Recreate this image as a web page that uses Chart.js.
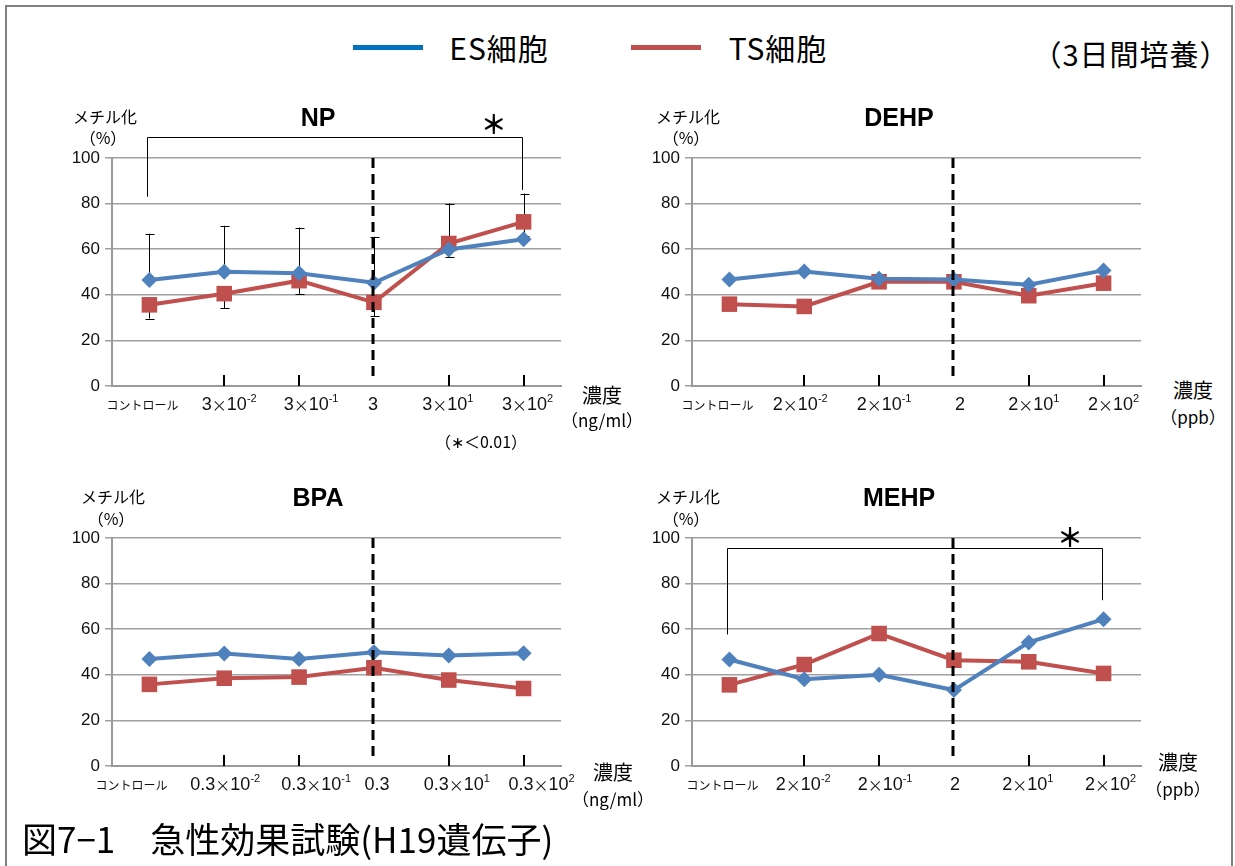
<!DOCTYPE html>
<html>
<head>
<meta charset="utf-8">
<script src="https://cdn.jsdelivr.net/npm/chart.js@4.4.1/dist/chart.umd.min.js"></script>
<style>
  body { margin: 0; width: 1235px; height: 866px; background: #fff; position: relative; overflow: hidden;
         font-family: 'Liberation Sans', 'Noto Sans CJK JP', sans-serif; }
  .frame { position: absolute; left: 5px; top: 5px; width: 1224px; height: 880px; border: 2px solid #808080; border-bottom: none; }
  .t { position: absolute; white-space: nowrap; transform: translate(-50%, -50%); color: #000; line-height: 1; }
  .jp { font-family: 'Noto Sans CJK JP', sans-serif; }
  .ttl { font-family: 'Liberation Sans', sans-serif; font-weight: bold; font-size: 25px; }
  .swatch { position: absolute; height: 5px; width: 70px; }
  canvas { position: absolute; }
</style>
</head>
<body>
<div class="frame"></div>

<!-- legend -->
<div class="swatch" style="left:353px;top:45px;background:#0070C0"></div>
<div class="t jp" style="left:499px;top:47px;font-size:30px;letter-spacing:1px">ES細胞</div>
<div class="swatch" style="left:631px;top:45px;background:#C0504D"></div>
<div class="t jp" style="left:778px;top:47px;font-size:30px;letter-spacing:1px">TS細胞</div>
<div class="t jp" style="left:1131px;top:53px;font-size:29px;letter-spacing:1px">（3日間培養）</div>

<canvas id="np" width="545" height="345" style="left:40px;top:90px"></canvas>
<canvas id="dehp" width="540" height="345" style="left:620px;top:90px"></canvas>
<canvas id="bpa" width="545" height="345" style="left:40px;top:470px"></canvas>
<canvas id="mehp" width="540" height="345" style="left:620px;top:470px"></canvas>

<!-- NP -->
<div class="t ttl" style="left:318px;top:117px">NP</div>
<div class="t jp" style="left:105px;top:116px;font-size:16px">メチル化</div>
<div class="t jp" style="left:103px;top:137px;font-size:16px">（%）</div>
<div class="t jp" style="left:602px;top:395px;font-size:20px">濃度</div>
<div class="t jp" style="left:602px;top:419px;font-size:17px">（ng/ml）</div>
<div class="t jp" style="left:481px;top:441px;font-size:16px">（∗＜0.01）</div>
<!-- DEHP -->
<div class="t ttl" style="left:899px;top:117px">DEHP</div>
<div class="t jp" style="left:688px;top:116px;font-size:16px">メチル化</div>
<div class="t jp" style="left:686px;top:137px;font-size:16px">（%）</div>
<div class="t jp" style="left:1193px;top:390px;font-size:20px">濃度</div>
<div class="t jp" style="left:1193px;top:416px;font-size:17px">（ppb）</div>
<!-- BPA -->
<div class="t ttl" style="left:318px;top:497px">BPA</div>
<div class="t jp" style="left:113px;top:496px;font-size:16px">メチル化</div>
<div class="t jp" style="left:111px;top:518px;font-size:16px">（%）</div>
<div class="t jp" style="left:613px;top:772px;font-size:20px">濃度</div>
<div class="t jp" style="left:613px;top:798px;font-size:17px">（ng/ml）</div>
<!-- MEHP -->
<div class="t ttl" style="left:899px;top:497px">MEHP</div>
<div class="t jp" style="left:688px;top:496px;font-size:16px">メチル化</div>
<div class="t jp" style="left:686px;top:518px;font-size:16px">（%）</div>
<div class="t jp" style="left:1178px;top:762px;font-size:20px">濃度</div>
<div class="t jp" style="left:1178px;top:788px;font-size:17px">（ppb）</div>

<div class="jp" style="position:absolute;left:22px;top:817px;font-size:35px;white-space:nowrap;line-height:1.2">図7−1　急性効果試験(H19遺伝子)</div>

<script>
// categories
const labelsNP = ['コントロール', '3×10⁻²', '3×10⁻¹', '3', '3×10¹', '3×10²'];
const labelsBPA = ['コントロール', '0.3×10⁻²', '0.3×10⁻¹', '0.3', '0.3×10¹', '0.3×10²'];
const labelsPPB = ['コントロール', '2×10⁻²', '2×10⁻¹', '2', '2×10¹', '2×10²'];

// methylation (%)
const npES = [46.5, 50.1, 49.4, 45.3, 59.9, 64.4];
const npTS = [35.6, 40.5, 46.2, 36.7, 62.5, 72.0];
const npESErr = [20.3, 20.2, 20.1, 20.2, 20.1, 20.0];   // upper bars
const npTSErr = [6.0, 6.4, 6.0, 6.2, 5.8, 6.0];         // lower bars
const dehpES = [46.7, 50.2, 47.0, 46.7, 44.4, 50.7];
const dehpTS = [35.9, 34.9, 45.7, 45.7, 39.6, 45.1];
const bpaES = [46.9, 49.3, 46.9, 49.9, 48.5, 49.5];
const bpaTS = [35.8, 38.5, 39.0, 43.1, 37.7, 34.0];
const mehpES = [46.7, 38.1, 40.0, 33.3, 54.2, 64.4];
const mehpTS = [35.6, 44.5, 58.1, 46.4, 45.7, 40.6];

const yMin = 0, yMax = 100, yStep = 20;

const ES_COLOR = '#4F81BD';
const TS_COLOR = '#C0504D';

const SUP = { '⁻': '-', '¹': '1', '²': '2', '³': '3', '⁰': '0' };
const BASE_FONT = '18px "Liberation Sans"';
const SUP_FONT = '11px "Liberation Sans"';
const CJK_FONT = '15px "Noto Sans CJK JP"';

// draws a category label, with superscripts set small and raised
function drawLabel(ctx, text, cx, cy) {
  let runs;
  if (/[ァ-ヶー]/.test(text)) {
    runs = [{ s: text, font: '12px "Noto Sans CJK JP"', dy: 0 }];
  } else {
    runs = [];
    for (const ch of text) {
      if (SUP[ch]) runs.push({ s: SUP[ch], font: SUP_FONT, dy: -6 });
      else if (ch === '×') runs.push({ s: ch, font: CJK_FONT, dy: 0 });
      else runs.push({ s: ch, font: BASE_FONT, dy: 0 });
    }
  }
  let w = 0;
  runs.forEach(r => { ctx.font = r.font; r.w = ctx.measureText(r.s).width; w += r.w; });
  let x = cx - w / 2;
  ctx.textAlign = 'left';
  ctx.textBaseline = 'middle';
  runs.forEach(r => { ctx.font = r.font; ctx.fillText(r.s, x, cy + r.dy); x += r.w; });
}

const extras = {
  id: 'extras',
  beforeDatasetsDraw(chart, args, o) {
    const ctx = chart.ctx, x = chart.scales.x, y = chart.scales.y, ca = chart.chartArea;
    ctx.save();
    ctx.strokeStyle = '#000';
    // short marks above the axis
    ctx.lineWidth = 2;
    (o.marks || []).forEach(i => {
      const px = Math.round(x.getPixelForValue(i));
      ctx.beginPath();
      ctx.moveTo(px, ca.bottom);
      ctx.lineTo(px, ca.bottom - 11);
      ctx.stroke();
    });
    // error bars
    if (o.errors) {
      ctx.lineWidth = 1;
      const bar = (i, from, to) => {
        const px = Math.round(x.getPixelForValue(i)) + 0.5;
        const a = y.getPixelForValue(from), b = y.getPixelForValue(to);
        ctx.beginPath();
        ctx.moveTo(px, a); ctx.lineTo(px, b);
        ctx.moveTo(px - 4, Math.round(b) + 0.5); ctx.lineTo(px + 5, Math.round(b) + 0.5);
        ctx.stroke();
      };
      o.errors.es.forEach((v, i) => bar(i, o.errors.esData[i], o.errors.esData[i] + v));
      o.errors.ts.forEach((v, i) => bar(i, o.errors.tsData[i], o.errors.tsData[i] - v));
    }
    ctx.restore();
  },
  afterDatasetsDraw(chart, args, o) {
    const ctx = chart.ctx, x = chart.scales.x, y = chart.scales.y, ca = chart.chartArea;
    ctx.save();
    // dashed divider
    const dx = Math.round(x.getPixelForValue(o.divider)) - 1;
    ctx.strokeStyle = '#000';
    ctx.lineWidth = 3;
    ctx.setLineDash([10, 6]);
    ctx.beginPath();
    ctx.moveTo(dx, ca.top);
    ctx.lineTo(dx, y.getPixelForValue(3));
    ctx.stroke();
    ctx.setLineDash([]);
    // significance bracket
    if (o.bracket) {
      const b = o.bracket;
      const x0 = Math.round(x.getPixelForValue(b.from)) - 1.5;
      const x1 = Math.round(x.getPixelForValue(b.to)) - 1.5;
      const yb = Math.round(y.getPixelForValue(b.level)) + 0.5;
      ctx.lineWidth = 1;
      ctx.beginPath();
      ctx.moveTo(x0, y.getPixelForValue(b.leftEnd));
      ctx.lineTo(x0, yb);
      ctx.lineTo(x1, yb);
      ctx.lineTo(x1, y.getPixelForValue(b.rightEnd));
      ctx.stroke();
      const sx = x.getPixelForValue(b.from) + (x.getPixelForValue(b.to) - x.getPixelForValue(b.from)) * b.starAt;
      ctx.fillStyle = '#000';
      ctx.font = 'bold 26px "Noto Sans CJK JP"';
      ctx.textAlign = 'center';
      ctx.textBaseline = 'middle';
      ctx.fillText('＊', sx, y.getPixelForValue(b.starLevel));
    }
    // category labels (nudged the way the original text boxes sit)
    ctx.fillStyle = '#111';
    const shift = o.labelShift || [];
    chart.data.labels.forEach((lab, i) => drawLabel(ctx, lab, x.getPixelForValue(i) + (shift[i] || 0), ca.bottom + 19));
    ctx.restore();
  }
};

function makePanel(id, labels, es, ts, extraOpts, rightPad) {
  return new Chart(document.getElementById(id), {
    type: 'line',
    data: {
      labels: labels,
      datasets: [
        {
          label: 'ES細胞', data: es, borderColor: ES_COLOR, backgroundColor: ES_COLOR,
          borderWidth: 4, pointStyle: 'rectRot', pointRadius: 8, pointBorderWidth: 0, tension: 0
        },
        {
          label: 'TS細胞', data: ts, borderColor: TS_COLOR, backgroundColor: TS_COLOR,
          borderWidth: 4, pointStyle: 'rect', pointRadius: 11, pointBorderWidth: 0, tension: 0
        }
      ]
    },
    options: {
      responsive: false,
      animation: false,
      devicePixelRatio: 1,
      layout: { padding: { top: 68, right: rightPad, left: 0, bottom: 0 } },
      plugins: { legend: { display: false }, tooltip: { enabled: false }, extras: extraOpts },
      scales: {
        x: {
          offset: true,
          grid: { display: false, drawTicks: false },
          border: { display: true, color: '#9a9a9a', width: 2 },
          ticks: { display: false },
          afterFit: s => { s.height = 49; }
        },
        y: {
          min: yMin, max: yMax,
          grid: { color: '#a0a0a0', lineWidth: 1.5, tickLength: 7 },
          border: { display: true, color: '#9a9a9a', width: 2 },
          ticks: { stepSize: yStep, color: '#111', padding: 5, font: { size: 17, family: "'Liberation Sans'" } },
          afterFit: s => { s.width = 72; }
        }
      }
    },
    plugins: [extras]
  });
}

makePanel('np', labelsNP, npES, npTS, {
  marks: [1, 2, 4, 5], divider: 3, labelShift: [-7, 5, 12, -1, -1, 4],
  errors: { es: npESErr, ts: npTSErr, esData: npES, tsData: npTS },
  bracket: { from: 0, to: 5, level: 109.2, leftEnd: 83, rightEnd: 86, starAt: 0.92, starLevel: 115 }
}, 24);
makePanel('dehp', labelsPPB, dehpES, dehpTS, { marks: [1, 2, 4, 5], divider: 3, labelShift: [-12, -4, 5, 6, 5, 10] }, 19);
makePanel('bpa', labelsBPA, bpaES, bpaTS, { marks: [1, 2, 4, 5], divider: 3, labelShift: [-18, 1, 17, 3, 8, 18] }, 24);
makePanel('mehp', labelsPPB, mehpES, mehpTS, {
  marks: [1, 2, 4, 5], divider: 3, labelShift: [-7, -1, 6, 1, -1, 7],
  bracket: { from: 0, to: 5, level: 95.6, leftEnd: 57.7, rightEnd: 72.7, starAt: 0.91, starLevel: 100.5 }
}, 19);
</script>
</body>
</html>
